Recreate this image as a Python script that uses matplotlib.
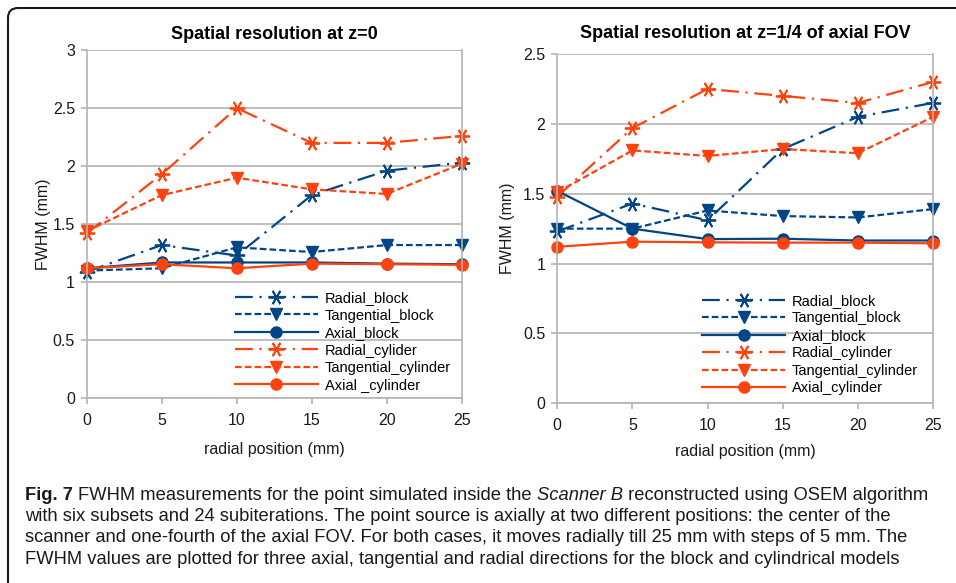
import matplotlib
matplotlib.use("Agg")
import matplotlib.pyplot as plt
from matplotlib.patches import FancyBboxPatch
from matplotlib.transforms import IdentityTransform

# radial positions (mm)
pos = [0, 5, 10, 15, 20, 25]

# z = 0
z0_radial_block = [1.09, 1.32, 1.23, 1.75, 1.96, 2.03]
z0_tang_block = [1.10, 1.12, 1.30, 1.26, 1.32, 1.32]
z0_axial_block = [1.12, 1.17, 1.17, 1.17, 1.16, 1.155]
z0_radial_cyl = [1.42, 1.93, 2.50, 2.20, 2.20, 2.26]
z0_tang_cyl = [1.44, 1.75, 1.90, 1.80, 1.76, 2.02]
z0_axial_cyl = [1.12, 1.155, 1.12, 1.16, 1.155, 1.15]

# z = 1/4 of axial FOV
zq_radial_block = [1.23, 1.43, 1.31, 1.82, 2.05, 2.15]
zq_tang_block = [1.25, 1.25, 1.38, 1.34, 1.33, 1.39]
zq_axial_block = [1.52, 1.25, 1.175, 1.178, 1.165, 1.165]
zq_radial_cyl = [1.48, 1.97, 2.25, 2.20, 2.15, 2.30]
zq_tang_cyl = [1.51, 1.81, 1.77, 1.82, 1.79, 2.05]
zq_axial_cyl = [1.12, 1.157, 1.152, 1.15, 1.15, 1.145]

labels_left = ["Radial_block", "Tangential_block", "Axial_block",
               "Radial_cylider", "Tangential_cylinder", "Axial _cylinder"]
labels_right = ["Radial_block", "Tangential_block", "Axial_block",
                "Radial_cylinder", "Tangential_cylinder", "Axial_cylinder"]

BLUE, ORANGE, GRID = "#004586", "#ff420e", "#b3b3b3"
W, H = 956, 583

plt.rcParams["font.family"] = ["Liberation Sans", "DejaVu Sans"]

fig = plt.figure(figsize=(W / 100, H / 100), dpi=100)


def px_axes(x0, x1, ytop, ybot):
    return fig.add_axes([x0 / W, (H - ybot) / H, (x1 - x0) / W, (ybot - ytop) / H])


def style(name):
    col = BLUE if "block" in name else ORANGE
    if name.startswith("Radial"):
        return dict(color=col, linestyle=(0, (8, 3, 1, 3)), marker=(6, 2, 90),
                    markersize=11, markeredgewidth=1.3)
    if name.startswith("Tangential"):
        return dict(color=col, linestyle=(0, (3, 1.4)), marker="v", markersize=9)
    return dict(color=col, linestyle="-", marker="o", markersize=8)


def panel(ax, series, labels, ymax, title, title_pad, ylab_pad, xlab_pad, leg_xy):
    for ys, lab in zip(series, labels):
        ax.plot(pos, ys, lw=1.6, label=lab, clip_on=False, **style(lab))
    ax.set_xlim(0, 25)
    ax.set_ylim(0, ymax)
    ax.set_xticks(pos)
    n = int(ymax / 0.5) + 1
    ax.set_yticks([v * 0.5 for v in range(n)])
    ax.set_yticklabels([f"{v * 0.5:g}" for v in range(n)])
    ax.yaxis.grid(True, color=GRID, lw=1.2)
    ax.set_axisbelow(True)
    for s in ax.spines.values():
        s.set_color(GRID)
        s.set_linewidth(1.2)
    ax.spines["top"].set_visible(False)
    ax.tick_params(colors=GRID, labelcolor="#1a1a1a", labelsize=11.5, length=4.5, width=1.2, pad=4)
    ax.tick_params(axis="x", pad=6)
    ax.set_xlabel("radial position (mm)", fontsize=11.5, color="#1a1a1a", labelpad=xlab_pad)
    ax.set_ylabel("FWHM (mm)", fontsize=11.5, color="#1a1a1a", labelpad=ylab_pad)
    ax.set_title(title, fontsize=13, fontweight="bold", pad=title_pad)
    ax.legend(loc="upper left", bbox_to_anchor=leg_xy, frameon=False, fontsize=10.5,
              handlelength=5.7, handletextpad=0.45, labelspacing=0.24, borderpad=0,
              borderaxespad=0, numpoints=1)


axL = px_axes(86.7, 461.7, 50, 398.3)
panel(axL, [z0_radial_block, z0_tang_block, z0_axial_block,
            z0_radial_cyl, z0_tang_cyl, z0_axial_cyl],
      labels_left, 3, "Spatial resolution at z=0", 8, 1, 10, (0.395, 0.308))

axR = px_axes(557.3, 933, 54, 403.3)
panel(axR, [zq_radial_block, zq_tang_block, zq_axial_block,
            zq_radial_cyl, zq_tang_cyl, zq_axial_cyl],
      labels_right, 2.5, "Spatial resolution at z=1/4 of axial FOV", 11.5, 6, 8, (0.385, 0.313))

# rounded frame, open to the right and bottom
frame = FancyBboxPatch((8, -10), 1100, H - 8 + 10, boxstyle="round,pad=0,rounding_size=10",
                       transform=IdentityTransform(), fill=False, ec="#1a1a1a", lw=1.5)
fig.patches.append(frame)

# caption, drawn piece by piece so bold/italic runs line up
cap = ["FWHM measurements for the point simulated inside the ", "Scanner B",
       " reconstructed using OSEM algorithm"]
cap_lines = [
    "with six subsets and 24 subiterations. The point source is axially at two different positions: the center of the",
    "scanner and one-fourth of the axial FOV. For both cases, it moves radially till 25 mm with steps of 5 mm. The",
    "FWHM values are plotted for three axial, tangential and radial directions for the block and cylindrical models",
]
renderer = fig.canvas.get_renderer()
runs = [("Fig. 7 ", dict(fontweight="bold")), (cap[0], {}),
        (cap[1], dict(fontstyle="italic")), (cap[2], {})]

# fit the caption size so the first line spans the same width as in the figure
probe = fig.text(0, 0, "".join(r[0] for r in runs), fontsize=12)
cfs = 12 * 901 / probe.get_window_extent(renderer).width
probe.remove()

x = 25
for txt, kw in runs:
    t = fig.text(x / W, (H - 495) / H, txt, fontsize=cfs, color="#1a1a1a",
                 va="center", ha="left", **kw)
    x = t.get_window_extent(renderer).x1
for i, line in enumerate(cap_lines):
    fig.text(25 / W, (H - 516.5 - 21.3 * i) / H, line, fontsize=cfs,
             color="#1a1a1a", va="center", ha="left")

fig.savefig("out.png", dpi=100)
